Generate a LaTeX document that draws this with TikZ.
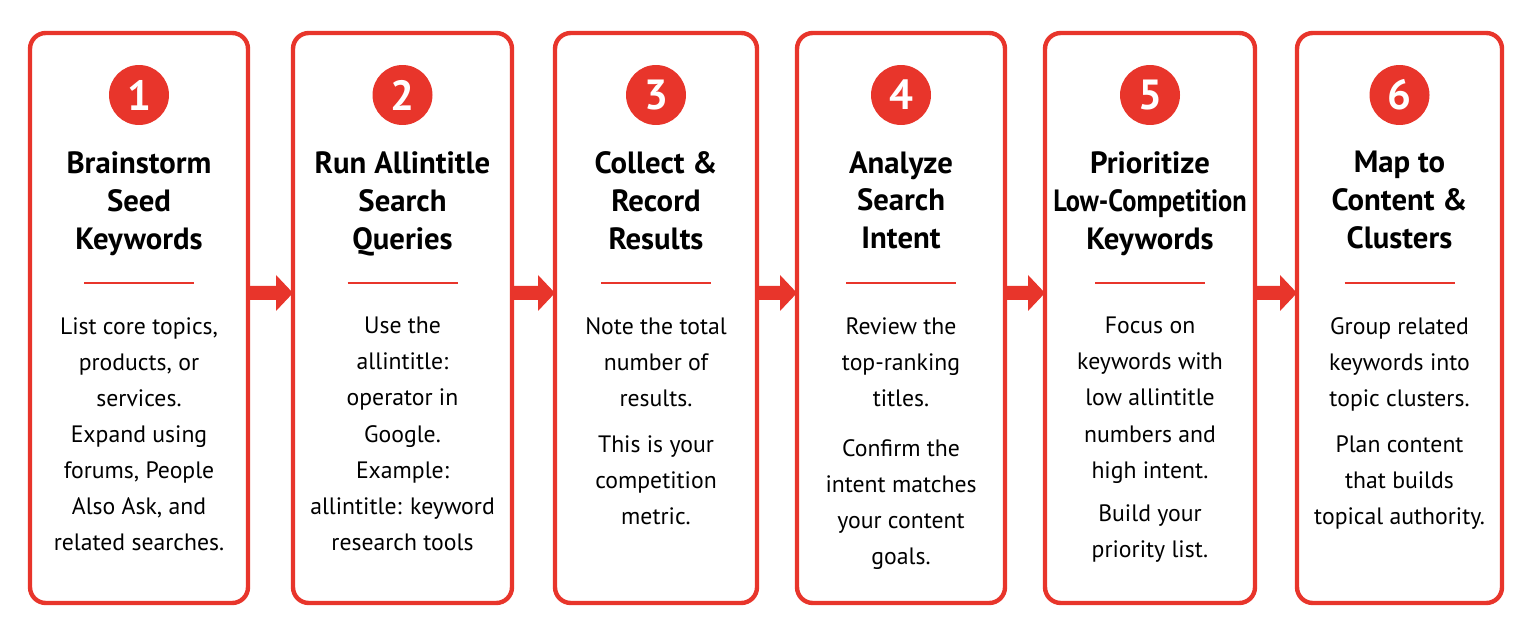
\documentclass[tikz,border=0pt]{standalone}
\usepackage{fontspec}
\setmainfont{PT Sans}
\usetikzlibrary{arrows.meta, positioning}
\definecolor{stepred}{HTML}{E8352B}
\tikzset{
  card/.style={draw=stepred, line width=2.5pt, rounded corners=9pt},
  badge/.style={circle, fill=stepred, minimum size=1.2cm, inner sep=0pt,
    text=white, font=\bfseries\fontsize{24}{24}\selectfont},
  title/.style={align=center, anchor=north, inner sep=0pt,
    font=\bfseries\fontsize{17.5}{21.6}\selectfont},
  body/.style={align=center, anchor=north, inner sep=0pt,
    font=\fontsize{13.5}{20.5}\selectfont},
  rule/.style={stepred, line width=1.5pt},
  flow/.style={fill=stepred},
}
\begin{document}
\begin{tikzpicture}[x=0.02cm, y=-0.02cm]
    \useasboundingbox (0,0) rectangle (1533,634);

    % Cards: left/right/number/title/text
    \foreach \l/\r/\n/\ttl/\txt in {
      30/248/1/{Brainstorm\\Seed\\Keywords}/{List core topics,\\products, or\\services.\\Expand using\\forums, People\\Also Ask, and\\related searches.},
      293/512/2/{Run Allintitle\\Search\\Queries}/{Use the\\allintitle:\\operator in\\Google.\\Example:\\allintitle: keyword\\research tools},
      555/757/3/{Collect \&\\Record\\Results}/{Note the total\\number of\\results.\\[6pt]This is your\\competition\\metric.},
      797/1005/4/{Analyze\\Search\\Intent}/{Review the\\top-ranking\\titles.\\[8pt]Confirm the\\intent matches\\your content\\goals.},
      1045/1255/5/{Prioritize\\\scalebox{0.86}[1]{Low-Competition}\\Keywords}/{Focus on\\keywords with\\low allintitle\\numbers and\\high intent.\\[4pt]Build your\\priority list.},
      1297/1502/6/{Map to\\Content \&\\Clusters}/{Group related\\keywords into\\topic clusters.\\[6pt]Plan content\\that builds\\topical authority.}} {
      \draw[card] (\l,33) rectangle (\r,603);
      \node[badge] (badge\n) at ({(\l+\r)/2},95) {\n};
      \node[title] (title\n) at ({(\l+\r)/2},151) {\ttl};
      \draw[rule] ({(\l+\r)/2-55},283) -- ({(\l+\r)/2+55},283);
      \node[body] (text\n) at ({(\l+\r)/2},317) {\txt};
    }

    % Arrows between cards
    \foreach \a/\b in {248/293, 512/555, 757/797, 1005/1045, 1255/1297} {
      \fill[flow] (\a,286) -- (\b-17,286) -- (\b-17,275) -- (\b,293)
        -- (\b-17,311) -- (\b-17,300) -- (\a,300) -- cycle;
    }
\end{tikzpicture}
\end{document}
